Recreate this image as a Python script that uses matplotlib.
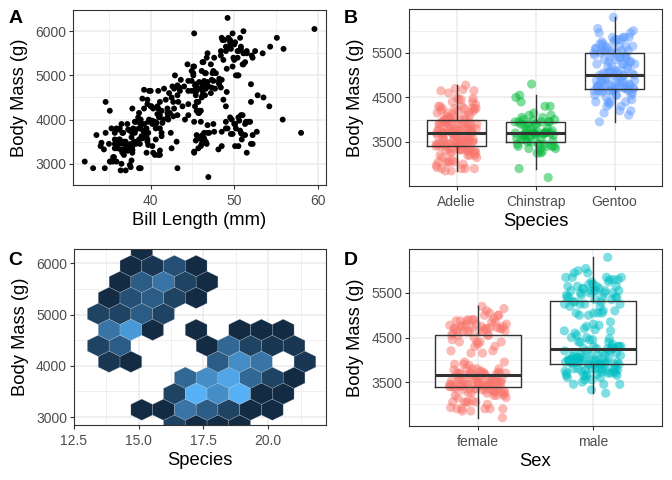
import numpy as np
import matplotlib
matplotlib.use('Agg')
import matplotlib.pyplot as plt
from matplotlib.colors import LinearSegmentedColormap, Normalize

plt.rcParams['font.family'] = ['Liberation Sans', 'DejaVu Sans']

# (bill length mm, body mass g), split by species / sex
adelie_f = [(39.5,3800),(40.3,3250),(36.7,3450),(38.9,3625),(41.1,3200),(36.6,3700),(38.7,3450),(34.4,3325),
            (37.8,3400),(35.9,3800),(35.3,3800),(40.5,3200),(37.9,3475),(39.5,3250),(37.2,3300),(36.4,3325),
            (35.7,3550),(41.1,3300),(36.2,3550),(37.6,3450),(36.5,3000),(36.0,3450),(37.0,3500),(35.7,3450),
            (33.1,2900),(38.6,3550),(36.4,2850),(35.6,3150),(38.1,3700),(37.0,2850),(36.0,3350),(35.5,3050),
            (36.2,3775),(39.6,3550),(35.0,3450),(34.5,2900),(37.5,3750),(36.7,3700),(39.6,3500),(37.7,3075),
            (37.6,2925),(40.2,3400),(35.2,3050),(36.8,3500),(38.1,3475),(37.3,3400),(36.9,3450),(35.7,3350),
            (37.8,3250),(39.7,3425),(36.2,3450),(40.9,3200),(33.5,3650),(32.1,3050),(38.2,3450),(35.9,3050),
            (36.3,3550),(39.0,3600),(35.5,3150),(37.3,3300),(36.6,3250),(34.0,3400),(38.6,2900),(36.9,3325),
            (39.2,3725),(37.7,3350),(40.6,3900),(38.8,2900),(35.1,3050),(36.8,3200),(38.1,3500),(34.6,3700),
            (39.0,3575)]
adelie_m = [(39.1,3750),(39.3,3650),(39.2,4675),(38.6,3800),(34.6,4400),(42.5,4500),(46.0,4200),(37.7,3600),
            (38.2,3950),(38.8,3800),(40.6,3550),(40.5,3950),(37.2,3900),(40.9,4250),(39.2,3900),(38.8,4000),
            (42.2,4600),(39.8,4650),(36.5,3900),(41.3,3700),(40.6,3800),(41.1,4400),(39.7,3700),(40.1,4300),
            (41.4,3925),(37.8,4250),(38.2,3775),(40.8,4300),(43.2,4775),(41.0,4050),(39.6,4350),(41.5,4000),
            (44.1,4000),(38.5,3950),(43.1,3500),(37.3,3775),(41.1,3800),(42.3,4150),(39.0,4475),(35.1,4200),
            (38.1,3950),(40.7,3925),(39.7,3950),(40.2,3900),(39.6,4450),(42.1,4000),(37.6,3750),(41.6,4700),
            (36.0,3450),(43.2,4100),(42.0,4050),(40.3,4250),(41.8,4450),(39.5,3600),(38.6,4150),(40.8,4125),
            (45.8,4150),(38.8,3900),(42.7,4075),(35.7,3700),(41.3,3625),(40.0,4650),(37.9,3800),(36.3,3800),
            (39.2,4250),(37.8,3325),(40.2,3975),(41.1,4100),(38.5,4050),(40.0,4300),(42.8,4250),(39.8,4000),
            (41.3,4200)]
chinstrap_f = [(46.5,3500),(45.4,3525),(45.2,3250),(46.1,3550),(46.0,3400),(46.6,3500),(47.0,3700),(45.9,3575),
               (58.0,3700),(46.4,3700),(42.4,3700),(43.2,2900),(46.7,3450),(45.7,3350),(48.5,3400),(46.1,3450),
               (45.5,3650),(46.9,2700),(47.6,3725),(46.4,3575),(45.2,3275),(49.0,3800),(50.1,3400),(46.2,3650),
               (47.5,3900),(46.8,3700),(45.6,3625),(42.5,3350),(48.1,3325),(46.8,3875),(46.0,3950),(45.7,4150),
               (50.5,3400),(49.8,3675)]
chinstrap_m = [(50.0,3900),(51.3,3650),(52.7,3725),(50.5,4050),(49.2,3800),(52.0,4800),(53.5,4500),(49.0,3950),
               (50.9,3550),(50.8,4100),(50.1,3900),(52.8,4550),(54.2,4300),(51.0,4100),(49.7,4000),(52.0,3450),
               (55.8,4000),(51.4,3950),(50.6,3975),(52.2,3450),(49.5,4050),(49.6,3675),(50.7,3750),(51.3,3900),
               (52.0,4400),(48.5,3725),(50.2,3800),(51.7,3950),(51.5,3250),(52.2,3650),(49.0,4300),(50.9,3675),
               (51.9,3950),(50.8,3700)]
gentoo_f = [(46.1,4500),(48.7,4450),(46.5,4550),(45.4,4800),(43.3,4400),(40.9,4650),(45.5,4650),(45.8,4200),
            (42.0,4150),(46.2,4800),(45.1,5000),(46.5,4750),(42.9,5000),(48.2,4800),(42.8,4700),(45.1,5050),
            (49.1,4625),(42.6,4750),(44.0,4750),(45.7,4400),(45.3,4300),(43.6,4900),(45.5,4200),(44.9,5100),
            (45.2,3950),(46.6,4700),(44.5,4350),(46.4,4875),(48.1,4850),(45.2,4650),(43.5,4650),(44.5,4650),
            (46.9,4750),(48.4,4725),(43.8,4300),(47.2,4600),(45.4,4550),(47.5,4875),(46.5,4700),(45.5,4400),
            (46.2,4550),(48.2,4925),(43.4,4725),(45.3,4775),(46.4,4700),(44.9,4650),(50.5,5000),(42.7,4400),
            (47.7,4700),(43.3,4725),(47.3,4900),(49.1,5150),(45.2,5200),(44.9,4875),(46.8,4850),(48.5,4900),
            (43.2,4550),(46.0,4700)]
gentoo_m = [(50.0,5700),(47.6,5400),(46.7,5400),(46.8,5500),(49.0,5650),(48.4,5550),(49.3,5850),(49.2,6300),
            (59.6,6050),(55.1,5850),(55.9,5600),(54.3,5650),(53.4,5500),(52.5,5550),(52.2,5400),(51.1,5500),
            (50.8,5600),(49.5,5800),(50.4,5550),(49.8,5950),(48.6,5800),(45.2,5950),(50.7,5850),(51.3,5300),
            (50.2,5000),(47.5,5100),(49.6,5700),(50.5,5550),(48.5,5850),(47.2,5250),(44.4,5250),(46.5,5050),
            (47.8,5050),(50.0,5350),(51.5,5500),(49.4,5650),(46.1,5100),(52.1,5450),(50.4,5400),(48.7,5350),
            (46.3,5300),(49.5,5750),(45.5,4750),(51.1,5250),(49.8,5200),(51.1,6000),(48.8,5800),(50.1,5750),
            (45.1,5200),(51.5,5550),(49.6,5600),(49.0,5550),(50.8,5650),(46.2,5300),(45.8,4850),(50.4,5000),
            (48.4,5450),(47.4,5050),(51.0,5250),(49.9,5400),(46.6,5050)]
# sex not recorded (only in panels A and B)
adelie_na = [(34.1,3475),(42.0,4250),(37.8,3300),(37.8,3700),(37.5,2975)]
gentoo_na = [(44.5,4100),(46.2,4650),(47.3,4725),(44.5,4875)]

# panel C: hexagon bin centres (bill depth mm, body mass g) and counts
hex_depth = [16.38, 17.22, 18.06, 18.90,
             15.12, 15.96, 16.80, 17.64, 18.48, 19.32, 20.16,
             16.38, 17.22, 18.06, 18.90, 19.74, 20.58,
             16.80, 17.64, 18.48, 19.32, 20.16, 21.00,
             13.86, 14.70, 18.06, 18.90, 19.74, 21.42,
             13.44, 14.28, 17.64, 18.48, 19.32, 20.16, 21.00,
             13.86, 14.70, 15.54, 17.22, 18.90, 19.74, 20.58,
             13.44, 14.28, 15.12, 15.96,
             13.86, 14.70, 15.54, 16.38, 17.22,
             14.28, 15.12, 15.96, 16.80, 17.64,
             14.70, 15.54, 16.38, 17.22,
             15.12]
hex_mass = [2831.8]*4 + [3143.5]*7 + [3455.3]*6 + [3767.1]*6 + [4078.8]*6 + [4390.6]*7 + \
           [4702.4]*7 + [5014.1]*4 + [5325.9]*5 + [5637.7]*5 + [5949.4]*4 + [6261.2]*1
hex_count = [3, 1, 1, 1,
             1, 1, 7, 5, 3, 1, 1,
             3, 12, 9, 12, 1, 1,
             6, 9, 11, 6, 3, 1,
             2, 1, 5, 9, 7, 2,
             3, 5, 1, 6, 3, 2, 2,
             7, 10, 1, 1, 1, 1, 1,
             3, 3, 5, 3,
             1, 4, 5, 3, 1,
             1, 5, 7, 3, 1,
             1, 2, 4, 1,
             1]

species = ['Adelie', 'Chinstrap', 'Gentoo']
sexes = ['female', 'male']
species_colors = ['#F8766D', '#00BA38', '#619CFF']
sex_colors = ['#F8766D', '#00BFC4']

by_species = [adelie_f + adelie_m + adelie_na,
              chinstrap_f + chinstrap_m,
              gentoo_f + gentoo_m + gentoo_na]
by_sex = [adelie_f + chinstrap_f + gentoo_f,
          adelie_m + chinstrap_m + gentoo_m]
everyone = [p for grp in by_species for p in grp]
all_bill = np.array([p[0] for p in everyone])
all_mass = np.array([p[1] for p in everyone])

GRID = '#EBEBEB'
DARK = '#333333'
TICK_FS = 10
TITLE_FS = 13.2


def expand(lo, hi, f=0.05):
    d = (hi - lo) * f
    return lo - d, hi + d


def theme_bw(ax, xmaj, ymaj, xmin_=None, ymin_=None):
    ax.set_facecolor('white')
    for s in ax.spines.values():
        s.set_color(DARK)
        s.set_linewidth(0.8)
    ax.set_xticks(xmaj)
    ax.set_yticks(ymaj)
    if xmin_ is not None:
        ax.set_xticks(xmin_, minor=True)
    if ymin_ is not None:
        ax.set_yticks(ymin_, minor=True)
    ax.grid(True, which='major', color=GRID, lw=1.1)
    ax.grid(True, which='minor', color=GRID, lw=0.55)
    ax.set_axisbelow(True)
    ax.tick_params(which='major', length=2.7, width=0.8, color=DARK,
                   labelcolor='#4D4D4D', labelsize=TICK_FS)
    ax.tick_params(axis='x', which='major', pad=3.8)
    ax.tick_params(axis='y', which='major', pad=2.2)
    ax.tick_params(which='minor', length=0)


def labels(ax, xlab):
    ax.set_xlabel(xlab, fontsize=TITLE_FS, labelpad=3)
    ax.set_ylabel('Body Mass (g)', fontsize=TITLE_FS, labelpad=5)


def jitter(n, width):
    # evenly spread horizontal offsets (golden-ratio sequence)
    return ((np.arange(n) * 0.6180339887 + 0.3) % 1 - 0.5) * 2 * width


fig = plt.figure(figsize=(6.72, 4.8), dpi=100)
axA = fig.add_axes([0.109, 0.6146, 0.376, 0.3646])
axB = fig.add_axes([0.609, 0.6135, 0.376, 0.3671])
axC = fig.add_axes([0.110, 0.1146, 0.375, 0.366])
axD = fig.add_axes([0.609, 0.1131, 0.376, 0.3675])

ylims = expand(all_mass.min(), all_mass.max())

# A: scatter
axA.scatter(all_bill, all_mass, s=18, color='black', edgecolors='none', zorder=3)
axA.set_xlim(*expand(all_bill.min(), all_bill.max()))
axA.set_ylim(*ylims)
theme_bw(axA, [40, 50, 60], [3000, 4000, 5000, 6000], [35, 45, 55], [3500, 4500, 5500])
labels(axA, 'Bill Length (mm)')


def jitter_box(ax, groups, names, colors, width):
    masses = []
    for i, (grp, col) in enumerate(zip(groups, colors)):
        m = np.array([p[1] for p in grp])
        masses.append(m)
        ax.scatter(i + jitter(len(m), width), m, s=44, color=col, alpha=0.5,
                   edgecolors='none', zorder=2)
    ax.boxplot(masses, positions=range(len(groups)), widths=0.75, showfliers=False,
               showcaps=False, manage_ticks=False, zorder=3,
               boxprops=dict(color=DARK, lw=1.0),
               whiskerprops=dict(color=DARK, lw=1.0),
               medianprops=dict(color=DARK, lw=2.2, solid_capstyle='butt'))
    ax.set_xlim(-0.6, len(groups) - 0.4)
    ax.set_ylim(*ylims)
    theme_bw(ax, range(len(groups)), [3500, 4500, 5500], None, [3000, 4000, 5000, 6000])
    ax.set_xticklabels(names)


# B: mass by species
jitter_box(axB, by_species, species, species_colors, 0.26)
labels(axB, 'Species')

# C: hexbin of bill depth vs mass
cmap = LinearSegmentedColormap.from_list('gg', ['#132B43', '#56B1F7'])
axC.hexbin(hex_depth, hex_mass, C=hex_count, reduce_C_function=np.sum,
           gridsize=(11, 6), extent=(12.6, 12.6 + 11 * 0.84, 2520, 2520 + 6 * 623.6),
           cmap=cmap, norm=Normalize(min(hex_count), max(hex_count)),
           edgecolors=(0.75, 0.78, 0.82, 0.6), linewidths=0.3, zorder=2)
axC.set_xlim(12.5, 22.23)
axC.set_ylim(2845, 6275)
theme_bw(axC, [12.5, 15.0, 17.5, 20.0], [3000, 4000, 5000, 6000],
         [13.75, 16.25, 18.75, 21.25], [3500, 4500, 5500])
axC.set_xticklabels(['12.5', '15.0', '17.5', '20.0'])
labels(axC, 'Species')

# D: mass by sex
jitter_box(axD, by_sex, sexes, sex_colors, 0.25)
labels(axD, 'Sex')

for lab, x, y in [('A', 0.012, 0.979), ('B', 0.512, 0.979), ('C', 0.012, 0.476), ('D', 0.512, 0.476)]:
    fig.text(x, y, lab, fontsize=14, fontweight='bold', ha='left', va='top')

fig.savefig('out.png', dpi=100)
